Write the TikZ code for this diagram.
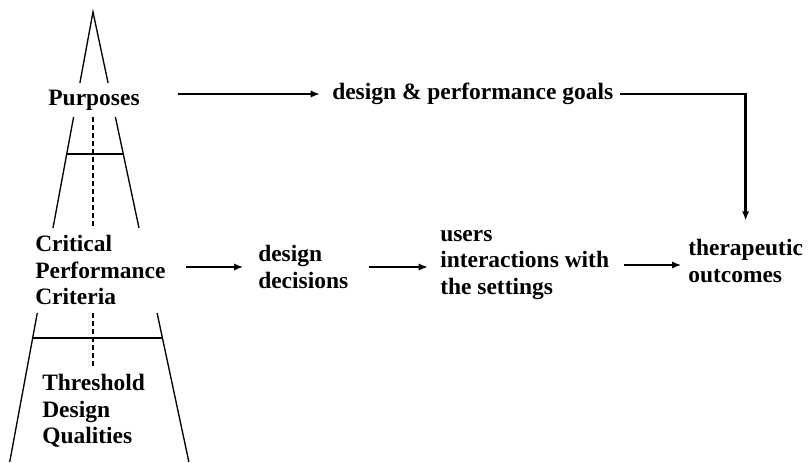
\documentclass[tikz,border=0pt]{standalone}
\usepackage{fontspec}
\setmainfont{Liberation Serif}
\usetikzlibrary{arrows.meta}

\begin{document}
\begin{tikzpicture}[x=0.75pt,y=-0.75pt,
	lbl/.style={font=\fontsize{17.6}{19.8}\selectfont\bfseries, align=left, inner sep=0pt, anchor=west},
	flow/.style={-{Latex[length=7pt,width=5.5pt]}, line width=1.8pt},
	wall/.style={line width=1pt},
	axis/.style={line width=1pt, dash pattern=on 3.5pt off 2.5pt}]
	\useasboundingbox (0,0) rectangle (808,462);
	% the tapering column
	\draw[wall] (79.9,83) -- (93,12) -- (108.1,83);
	\draw[wall] (73.6,117) -- (53,228);
	\draw[wall] (115.4,117) -- (139,228);
	\draw[wall] (37.3,313) -- (9.7,462);
	\draw[wall] (157.1,313) -- (188.9,462);
	\draw[wall] (66.7,154) -- (123.2,154);
	\draw[wall] (32.7,338) -- (162.4,338);
	\draw[axis] (93,117) -- (93,228);
	\draw[axis] (93,313) -- (93,367);
	% labels
	\node[lbl, anchor=center] (purp) at (94,100) {Purposes};
	\node[lbl] (crit) at (35,270) {Critical\\Performance\\Criteria};
	\node[lbl] (thresh) at (42,411) {Threshold\\Design\\Qualities};
	\node[lbl] (goals) at (332,94) {design \& performance goals};
	\node[lbl] (dec) at (258,267) {design\\decisions};
	\node[lbl] (users) at (440,265) {users\\interactions with\\the settings};
	\node[lbl] (ther) at (688,261) {therapeutic\\outcomes};
	% connectors
	\draw[flow, shorten <=28.5pt, shorten >=9pt] (purp.east |- goals.west) -- (goals.west);
	\draw[flow, shorten <=5pt, shorten >=14pt] (goals.east) -| (ther.north);
	\draw[flow, shorten <=15pt, shorten >=11pt] (crit.east |- dec.west) -- (dec.west);
	\draw[flow, shorten <=15pt, shorten >=9pt] (dec.east) -- (dec.east -| users.west);
	\draw[flow, shorten <=11pt, shorten >=5pt] (users.east) -- (users.east -| ther.west);
\end{tikzpicture}
\end{document}
